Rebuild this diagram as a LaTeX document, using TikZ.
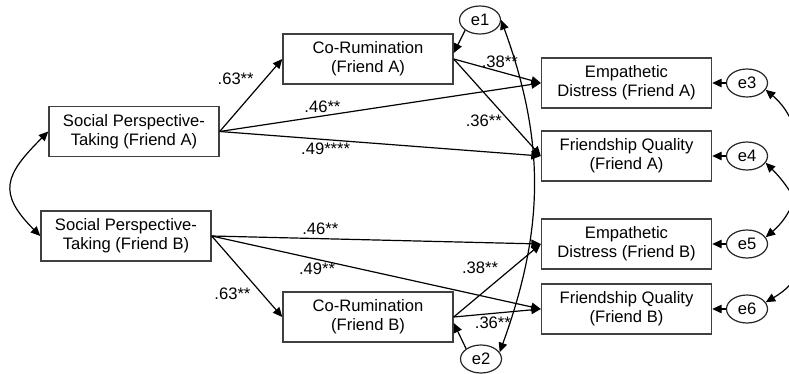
\documentclass[tikz,border=0pt]{standalone}
\usepackage{fontspec}
\setmainfont{Liberation Sans}
\usepackage{tikz}
\usetikzlibrary{arrows.meta,shapes.geometric}
\usetikzlibrary{positioning}
\tikzset{
    var/.style={
           rectangle,
           draw=black!75, line width=1.4pt,
           minimum width=170pt,
           minimum height=50pt,
           inner sep=2pt,
           align=center,
           font=\fontsize{16.6}{19}\selectfont,
           },
    err/.style={
           ellipse,
           draw=black!85, line width=1.2pt,
           minimum width=41pt,
           minimum height=28pt,
           inner sep=0pt,
           font=\fontsize{16.6}{19}\selectfont,
           },
    coef/.style={
           font=\fontsize{16.6}{19}\selectfont,
           inner sep=3pt,
           },
}

\begin{document}
\begin{tikzpicture}[x=1pt,y=1pt,->,>={Triangle[length=9.5pt,width=8.5pt]},line width=1.2pt]
 \useasboundingbox (0,0) rectangle (789,373);
 \clip (0,0) rectangle (789,373);

 % predictors
 \node[var] (SPTA) at (134,241.5)
 {Social Perspective-\\Taking (Friend A)};

 \node[var,
  below of=SPTA,	% under friend A
  node distance=104.5pt,
  xshift=-8pt] (SPTB)
 {Social Perspective-\\Taking (Friend B)};

 % mediators
 \node[var,
  right of=SPTA,
  node distance=234pt,
  yshift=72.5pt] (CORA)
 {Co-Rumination\\(Friend A)};

 \node[var,
  below of=CORA,
  node distance=258pt] (CORB)
 {Co-Rumination\\(Friend B)};

 % outcomes
 \node[var,
  right of=CORA,
  node distance=258.5pt,
  yshift=-24pt] (EDA)
 {Empathetic\\Distress (Friend A)};
 \node[var, below of=EDA, node distance=73pt] (FQA)
 {Friendship Quality\\(Friend A)};
 \node[var, below of=FQA, node distance=88pt] (EDB)
 {Empathetic\\Distress (Friend B)};
 \node[var, below of=EDB, node distance=65pt] (FQB)
 {Friendship Quality\\(Friend B)};

 % residuals
 \node[err, right of=CORA, node distance=112pt, yshift=39pt] (E1) {e1};
 \node[err, right of=CORB, node distance=113pt, yshift=-42pt] (E2) {e2};
 \node[err, right of=EDA, node distance=120.5pt] (E3) {e3};
 \node[err, right of=FQA, node distance=120.5pt] (E4) {e4};
 \node[err, right of=EDB, node distance=120.5pt] (E5) {e5};
 \node[err, right of=FQB, node distance=120.5pt] (E6) {e6};

 % paths with their coefficients
 \path
 (SPTA.east)	edge	node[coef,pos=0.6,above left]{.63**} (CORA.west)
 (SPTA.east)	edge	node[coef,pos=0.32,above]{.46**} (EDA.west)
 (SPTA.east)	edge	node[coef,pos=0.33,below]{.49****} (FQA.west)

 (CORA.east)	edge	node[coef,pos=0.53,above]{.38**} (EDA.west)
 (CORA.east)	edge	node[coef,pos=0.64,left,xshift=-4pt]{.36**} (FQA.west)

 (SPTB.east)	edge	node[coef,pos=0.33,above]{.46**} (EDB.west)
 (SPTB.east)	edge	node[coef,pos=0.32,below]{.49**} (FQB.west)
 (SPTB.east)	edge	node[coef,pos=0.6,below left]{.63**} (CORB.west)

 (CORB.east)	edge	node[coef,pos=0.55,above left]{.38**} (EDB.west)
 (CORB.east)	edge	node[coef,pos=0.45,below]{.36**} (FQB.west)
 ;

 % residual arrows and covariances
 \path
 (E1.south west)	edge	(CORA.4)
 (E2.north west)	edge	(CORB.-4)
 (E3)	edge	(EDA)
 (E4)	edge	(FQA)
 (E5)	edge	(EDB)
 (E6)	edge	(FQB)

 (SPTA.west)	edge[<->, out=225, in=135, looseness=1.5]	(SPTB.west)
 (E1.east)	edge[<->, out=-70, in=70]	(E2.20)
 (E3.-20)	edge[<->, out=-40, in=40]	(E5.20)
 (E4.-20)	edge[<->, out=-45, in=30, looseness=1.2]	(E6.20)
 ;
\end{tikzpicture}
\end{document}
